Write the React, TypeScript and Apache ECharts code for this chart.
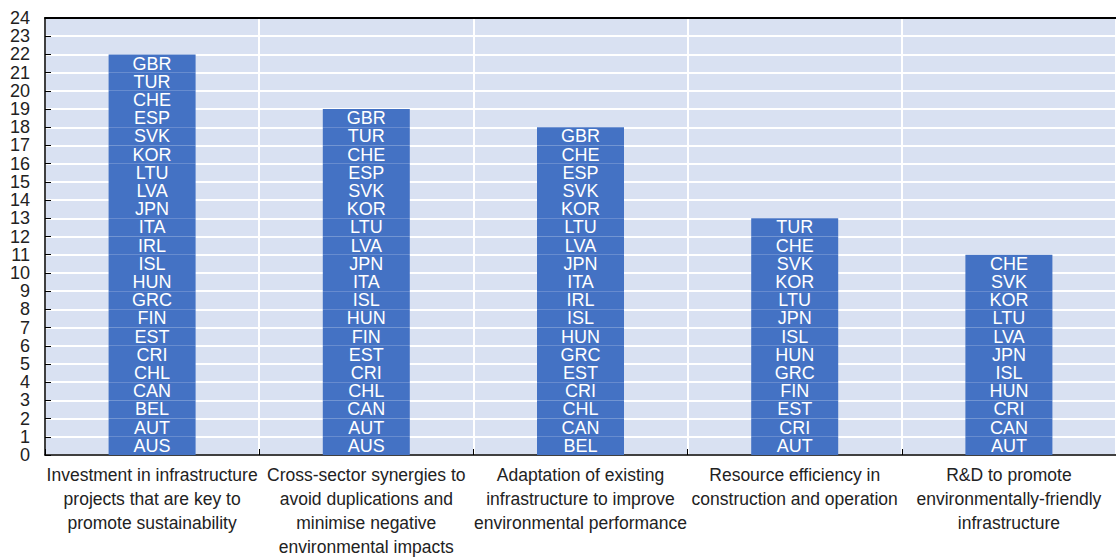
import React, { useEffect, useRef } from "react";
import * as echarts from "echarts";

const categories = [
  "Investment in infrastructure\nprojects that are key to\npromote sustainability",
  "Cross-sector synergies to\navoid duplications and\nminimise negative\nenvironmental impacts",
  "Adaptation of existing\ninfrastructure to improve\nenvironmental performance",
  "Resource efficiency in\nconstruction and operation",
  "R&D to promote\nenvironmentally-friendly\ninfrastructure",
];

// stacking order, bottom to top
const countryOrder = [
  "AUS", "AUT", "BEL", "CAN", "CHL", "CRI", "EST", "FIN", "GRC", "HUN", "ISL",
  "IRL", "ITA", "JPN", "LVA", "LTU", "KOR", "SVK", "ESP", "CHE", "TUR", "GBR",
];

const investmentCountries = [
  "AUS", "AUT", "BEL", "CAN", "CHL", "CRI", "EST", "FIN", "GRC", "HUN", "ISL",
  "IRL", "ITA", "JPN", "LVA", "LTU", "KOR", "SVK", "ESP", "CHE", "TUR", "GBR",
];
const synergyCountries = [
  "AUS", "AUT", "CAN", "CHL", "CRI", "EST", "FIN", "HUN", "ISL", "ITA", "JPN",
  "LVA", "LTU", "KOR", "SVK", "ESP", "CHE", "TUR", "GBR",
];
const adaptationCountries = [
  "BEL", "CAN", "CHL", "CRI", "EST", "GRC", "HUN", "ISL", "IRL", "ITA", "JPN",
  "LVA", "LTU", "KOR", "SVK", "ESP", "CHE", "GBR",
];
const efficiencyCountries = [
  "AUT", "CRI", "EST", "FIN", "GRC", "HUN", "ISL", "JPN", "LTU", "KOR", "SVK",
  "CHE", "TUR",
];
const rdCountries = [
  "AUT", "CAN", "CRI", "HUN", "ISL", "JPN", "LVA", "LTU", "KOR", "SVK", "CHE",
];

const countryLists = [
  investmentCountries,
  synergyCountries,
  adaptationCountries,
  efficiencyCountries,
  rdCountries,
];

const yTicks = { min: 0, max: 24, interval: 1 };

export default function App() {
  const ref = useRef<HTMLDivElement>(null);
  useEffect(() => {
    if (!ref.current) return;
    const chart = echarts.init(ref.current, null, { renderer: "svg" });
    const font = "'Liberation Sans', Arial, sans-serif";
    const series = countryOrder.map((c) => ({
      name: c,
      type: "bar",
      stack: "total",
      barWidth: 87,
      itemStyle: { color: "#4472c4" },
      label: {
        show: true,
        position: "inside",
        formatter: c,
        color: "#ffffff",
        fontSize: 18,
        lineHeight: 18,
        fontFamily: font,
      },
      data: countryLists.map((l) => (l.includes(c) ? 1 : "-")),
    }));
    chart.setOption({
      animation: false,
      grid: {
        left: 45,
        right: 0,
        top: 18,
        bottom: 101,
        show: true,
        backgroundColor: "#d9e1f2",
        borderWidth: 0,
      },
      xAxis: [
        {
          type: "category",
          data: categories,
          axisLine: { show: true, lineStyle: { color: "#000", width: 1.5 } },
          axisTick: { show: true, inside: true, length: 6, lineStyle: { color: "#000" } },
          splitLine: { show: true, lineStyle: { color: "#ffffff", width: 2 } },
          axisLabel: {
            interval: 0,
            color: "#222",
            fontSize: 17.5,
            fontFamily: font,
            lineHeight: 24,
            margin: 8,
          },
        },
        {
          type: "category",
          position: "top",
          data: categories,
          axisLine: { show: true, lineStyle: { color: "#000", width: 2 } },
          axisTick: { show: false },
          axisLabel: { show: false },
        },
      ],
      yAxis: {
        type: "value",
        min: yTicks.min,
        max: yTicks.max,
        interval: yTicks.interval,
        axisLine: { show: true, lineStyle: { color: "#000", width: 1.5 } },
        axisTick: { show: true, inside: true, length: 6, lineStyle: { color: "#000" } },
        splitLine: { show: true, lineStyle: { color: "#ffffff", width: 2 } },
        axisLabel: {
          color: "#222",
          fontSize: 18,
          lineHeight: 18,
          fontFamily: font,
          margin: 15,
          showMinLabel: true,
          showMaxLabel: true,
          hideOverlap: false,
        },
      },
      series,
    });
    return () => chart.dispose();
  }, []);
  return (
    <div
      ref={ref}
      style={{ position: "absolute", left: 0, top: 0, width: 1116, height: 559 }}
    />
  );
}
